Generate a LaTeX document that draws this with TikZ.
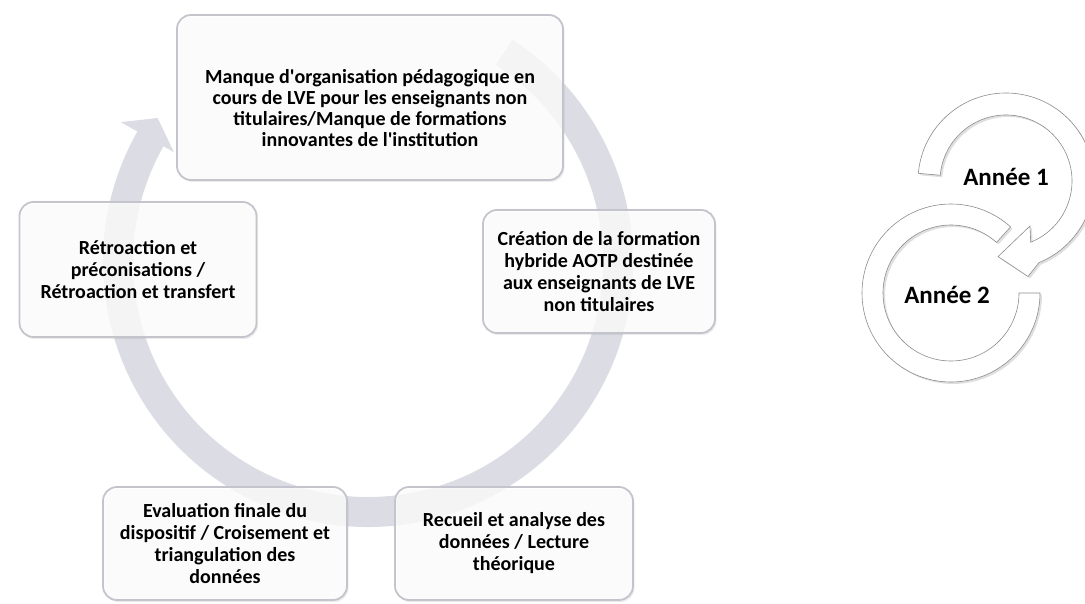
\documentclass[tikz,border=0pt]{standalone}
\usepackage{fontspec}
\setmainfont{Carlito}
\usetikzlibrary{positioning}
\usetikzlibrary{shadows}

\definecolor{bandgray}{RGB}{220,220,228}
\definecolor{boxedge}{RGB}{196,196,204}
\definecolor{ringedge}{RGB}{140,140,140}

\tikzset{
	stage/.style = {draw = boxedge, line width = 1.8pt, rounded corners = 14pt, fill = white, fill opacity = 0.78, text opacity = 1, align = center, inner sep = 0pt, font = \fontsize{20}{22}\selectfont\bfseries, drop shadow = {opacity = 0.15, shadow xshift = 1.5pt, shadow yshift = -2pt}},
	stagetext/.style = {align = center, inner sep = 0pt, font = \fontsize{20}{21}\selectfont\bfseries},
	ring/.style = {draw = ringedge, line width = 0.6pt, fill = white, drop shadow = {opacity = 0.25, shadow xshift = 2pt, shadow yshift = -2pt}},
	yearlabel/.style = {inner sep = 0pt, font = \fontsize{25}{28}\selectfont\bfseries}
}

\begin{document}
\begin{tikzpicture}[x = 1pt, y = -1pt]
	\useasboundingbox (0, 0) rectangle (1085, 604);

	% cycle arrow behind the stages
	\begin{scope}[shift = {(368, 262)}]
		\fill [bandgray] (-57:265) arc [start angle = -57, end angle = 209.5, radius = 265] -- (209.5:284) -- (214.4:255) -- (209.5:223) -- (209.5:235) arc [start angle = 209.5, end angle = -57, radius = 235] -- cycle;
	\end{scope}

	% stages
	\node [stage, minimum width = 386pt, minimum height = 165pt] (manque) at (370, 97.5) {};
	\node [stagetext] (manque-t) at (370, 108) {Manque d\textquotesingle organisation pédagogique en\\cours de LVE pour les enseignants non\\titulaires/Manque de formations\\innovantes de l\textquotesingle institution};
	\node [stage, minimum width = 232pt, minimum height = 123pt] (creation) at (599, 271.5) {Création de la formation\\hybride AOTP destinée\\aux enseignants de LVE\\non titulaires};
	\node [stage, minimum width = 238pt, minimum height = 113pt] (recueil) at (514, 543.5) {Recueil et analyse des\\données / Lecture\\théorique};
	\node [stage, minimum width = 244pt, minimum height = 113pt] (evaluation) at (225, 543.5) {Evaluation finale du\\dispositif / Croisement et\\triangulation des\\données};
	\node [stage, minimum width = 237pt, minimum height = 135pt] (retro) at (138, 269.5) {Rétroaction et\\préconisations /\\Rétroaction et transfert};

	% years
	\begin{scope}[shift = {(951, 293)}]
		\filldraw [ring] (0:89) arc [start angle = 0, end angle = 312, radius = 89] -- (312:68) arc [start angle = 312, end angle = 0, radius = 68] -- cycle;
	\end{scope}
	\begin{scope}[shift = {(1006, 181)}]
		\filldraw [ring] (-175:88) arc [start angle = -175, end angle = 68, radius = 88] -- (77:98) -- (96:76) -- (62:51) -- (68:66) arc [start angle = 68, end angle = -175, radius = 66] -- cycle;
	\end{scope}
	\node [yearlabel] (annee1) at (1006, 177) {Année 1};
	\node [yearlabel] (annee2) at (947, 295) {Année 2};
\end{tikzpicture}
\end{document}
